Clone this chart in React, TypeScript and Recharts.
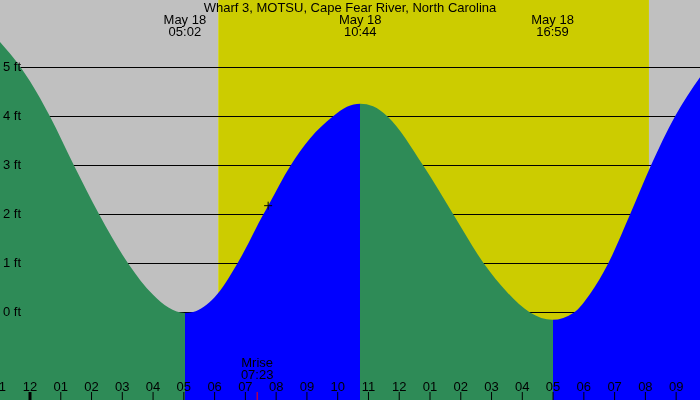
import { ComposedChart, Area, XAxis, YAxis, ReferenceArea, ReferenceLine, ReferenceDot } from 'recharts';

const title = 'Wharf 3, MOTSU, Cape Fear River, North Carolina';
const dayLabel = 'May 18';

// tide turns shown at the top of the chart
const turnTimes = ['05:02', '10:44', '16:59'];
const turnKinds = ['low', 'high', 'low'];
const turnFt = [-0.01, 4.26, -0.15];

// water level (hours from midnight May 18, feet)
const readHours = [-0.975, -0.3, 0, 0.65, 1.43, 2.25, 3.19, 4.0, 4.5, 5.3, 6.0, 6.74, 7.58, 7.74, 8.47, 9.1, 9.84, 10.3,
  11.15, 11.62, 12.78, 13.76, 14.75, 15.5, 16.25, 17.68, 18.2, 18.79, 19.5, 20.18, 20.96, 21.775];
const readFt = [5.52, 5.0, 4.72, 4.0, 3.0, 2.0, 1.0, 0.36, 0.1, 0.01, 0.31, 1.0, 2.0, 2.18, 3.0, 3.55, 4.0, 4.2,
  4.21, 4.0, 3.0, 2.0, 1.0, 0.42, 0.0, 0.0, 0.38, 1.0, 2.0, 3.0, 4.0, 4.8];

const sunrise = '06:07';
const sunset = '20:07';
const moonrise = '07:23';
const markerHour = 7.74;
const markerFt = 2.18;

const feetTicks = [0, 1, 2, 3, 4, 5];
const hourTicks = [-1, 0, 1, 2, 3, 4, 5, 6, 7, 8, 9, 10, 11, 12, 13, 14, 15, 16, 17, 18, 19, 20, 21];

const xMin = -0.975;
const xMax = 21.775;
const yMin = -1.786;
const yMax = 6.378;

const toHours = (s: string) => {
  const [h, m] = s.split(':').map(Number);
  return h + m / 60;
};

const turns = turnTimes.map((t, i) => ({ hour: toHours(t), kind: turnKinds[i], ft: turnFt[i], label: t }));

const data = [
  ...readHours.map((h, i) => ({ hour: h, ft: readFt[i] })),
  ...turns.map((t) => ({ hour: t.hour, ft: t.ft })),
].sort((a, b) => a.hour - b.hour);

const FALL = '#2e8b57';
const RISE = '#0000ff';

// colour bands of the water: falling before a low, rising before a high
const bands = turns.map((t, i) => ({
  from: i === 0 ? xMin : turns[i - 1].hour,
  to: t.hour,
  color: t.kind === 'low' ? FALL : RISE,
}));
bands.push({
  from: turns[turns.length - 1].hour,
  to: xMax,
  color: turns[turns.length - 1].kind === 'low' ? RISE : FALL,
});
const frac = (h: number) => (h - xMin) / (xMax - xMin);

const moonHour = toHours(moonrise);
const font = '"Liberation Sans", Arial, sans-serif';
const FS = 13;

const hourLabel = (v: number) => {
  const h24 = ((v % 24) + 24) % 24;
  const h12 = h24 % 12 === 0 ? 12 : h24 % 12;
  return String(h12).padStart(2, '0');
};

const BottomTick = (props: any) => {
  const { x, y, payload } = props;
  const v = payload.value;
  if (v === moonHour) {
    return (
      <g>
        <line x1={x} x2={x} y1={y - 8} y2={y + 1} stroke="#ff0000" strokeWidth={1} />
        <text x={x} y={y - 33} textAnchor="middle" fontSize={FS} fill="#000">Mrise</text>
        <text x={x} y={y - 21.5} textAnchor="middle" fontSize={FS} fill="#000">{moonrise}</text>
      </g>
    );
  }
  return (
    <g>
      <line x1={x} x2={x} y1={y - 8} y2={y + 1} stroke="#000" strokeWidth={v % 24 === 0 ? 3 : 1} />
      <text x={x} y={y - 9} textAnchor="middle" fontSize={FS} fill="#000">{hourLabel(v)}</text>
    </g>
  );
};

const TopTick = (props: any) => {
  const { x, y, payload } = props;
  const turn = turns.find((t) => t.hour === payload.value);
  return (
    <g>
      <text x={x} y={y + 24} textAnchor="middle" fontSize={FS} fill="#000">{dayLabel}</text>
      <text x={x} y={y + 35.5} textAnchor="middle" fontSize={FS} fill="#000">{turn ? turn.label : ''}</text>
    </g>
  );
};

const FeetTick = (props: any) => {
  const { x, y, payload } = props;
  return (
    <text x={x} y={y + 3.5} textAnchor="start" fontSize={FS} fill="#000">{`${payload.value} ft`}</text>
  );
};

const Plus = (props: any) => {
  const { cx, cy } = props;
  return <path d={`M${cx - 4},${cy}H${cx + 4}M${cx},${cy - 4}V${cy + 4}`} stroke="#000" strokeWidth={1} fill="none" />;
};

export default function App() {
  return (
    <div style={{ position: 'fixed', left: 0, top: 0, width: 700, height: 400, fontFamily: font }}>
      <ComposedChart width={700} height={400} data={data} margin={{ top: 0, right: 0, bottom: 0, left: 0 }} style={{ fontFamily: font }}>
        <defs>
          <linearGradient id="tideFill" x1="0" y1="0" x2="1" y2="0">
            {bands.flatMap((b, i) => [
              <stop key={`a${i}`} offset={frac(b.from)} stopColor={b.color} />,
              <stop key={`b${i}`} offset={frac(b.to)} stopColor={b.color} />,
            ])}
          </linearGradient>
        </defs>
        <ReferenceArea x1={xMin} x2={toHours(sunrise)} fill="#c0c0c0" fillOpacity={1} stroke="none" ifOverflow="hidden" zIndex={10} />
        <ReferenceArea x1={toHours(sunrise)} x2={toHours(sunset)} fill="#cccc00" fillOpacity={1} stroke="none" ifOverflow="hidden" zIndex={10} />
        <ReferenceArea x1={toHours(sunset)} x2={xMax} fill="#c0c0c0" fillOpacity={1} stroke="none" ifOverflow="hidden" zIndex={10} />
        {feetTicks.map((f) => (
          <ReferenceLine key={f} y={f} stroke="#000" strokeWidth={1} shapeRendering="crispEdges" zIndex={50} />
        ))}
        <Area dataKey="ft" type="monotone" fill="url(#tideFill)" fillOpacity={1} stroke="none" baseValue={yMin}
          dot={false} activeDot={false} isAnimationActive={false} zIndex={100} />
        <ReferenceDot x={markerHour} y={markerFt} shape={Plus} zIndex={600} />
        <YAxis type="number" domain={[yMin, yMax]} allowDataOverflow ticks={feetTicks} mirror width={1}
          axisLine={false} tickLine={false} tickSize={0} tickMargin={3} interval={0} tick={FeetTick} />
        <XAxis xAxisId={0} dataKey="hour" type="number" domain={[xMin, xMax]} allowDataOverflow
          ticks={[...hourTicks, moonHour]} interval={0} mirror height={1} axisLine={false} tickLine={false}
          tickSize={0} tickMargin={0} tick={BottomTick} />
        <XAxis xAxisId="top" orientation="top" dataKey="hour" type="number" domain={[xMin, xMax]} allowDataOverflow
          ticks={turns.map((t) => t.hour)} interval={0} mirror height={1} axisLine={false} tickLine={false}
          tickSize={0} tickMargin={0} tick={TopTick} />
      </ComposedChart>
      <div style={{ position: 'absolute', left: 0, top: 0, width: 700, textAlign: 'center', fontSize: FS, lineHeight: '15px', color: '#000', pointerEvents: 'none' }}>
        {title}
      </div>
    </div>
  );
}
